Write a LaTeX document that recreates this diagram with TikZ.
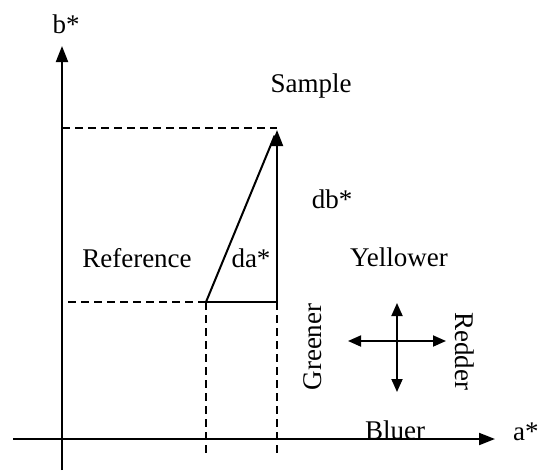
\documentclass[tikz,border=0pt]{standalone}
\usepackage{fontspec}
\setmainfont{Liberation Serif}
\usetikzlibrary{arrows.meta}
\begin{document}
\begin{tikzpicture}[x=1pt,y=-1pt,
  lbl/.style={font=\fontsize{27}{30}\selectfont, inner sep=0pt, text=black},
  axisline/.style={line width=2pt},
  dashline/.style={line width=2pt, dash pattern=on 8pt off 5pt},
  tip/.style={-{Triangle[length=16pt,width=12pt]}},
  dtip/.style={{Triangle[length=13pt,width=11pt]}-{Triangle[length=13pt,width=11pt]}}]
\useasboundingbox (0,0) rectangle (539,472);
% coordinates
\coordinate (ybot) at (62,470);
\coordinate (ytop) at (62,46);
\coordinate (xleft) at (13,439);
\coordinate (xright) at (495,439);
\coordinate (ref) at (206,302);
\coordinate (corner) at (277,302);
\coordinate (smp) at (277,130);
\coordinate (ytopdash) at (62,128);
\coordinate (smpdash) at (277,128);
\coordinate (yrefdash) at (68,302);
\coordinate (refbot) at (206,457);
\coordinate (cornerbot) at (277,457);
\coordinate (cl) at (348,341);
\coordinate (cr) at (446,341);
\coordinate (ct) at (397,303);
\coordinate (cb) at (397,392);
% axes
\draw[axisline,tip] (ybot) -- (ytop);
\draw[axisline,tip] (xleft) -- (xright);
% dashed guides
\draw[dashline] (ytopdash) -- (smpdash);
\draw[dashline] (yrefdash) -- (ref);
\draw[dashline] (ref) -- (refbot);
\draw[dashline] (corner) -- (cornerbot);
% triangle
\draw[axisline] (ref) -- (corner);
\draw[axisline,tip] (corner) -- (smp);
\draw[axisline,shorten >=6pt] (ref) -- (smp);
% direction cross
\draw[line width=1.8pt,dtip] (cl) -- (cr);
\draw[line width=1.8pt,dtip] (ct) -- (cb);
% labels
\node[lbl,anchor=base] (lb) at (66,33) {b*};
\node[lbl,anchor=base west] (la) at (513,440) {a*};
\node[lbl,anchor=base] (lsample) at (311,92) {Sample};
\node[lbl,anchor=base] (ldb) at (332,208) {db*};
\node[lbl,anchor=base] (lref) at (137,267) {Reference};
\node[lbl,anchor=base] (lda) at (251,267) {da*};
\node[lbl,anchor=base] (lyel) at (399,266) {Yellower};
\node[lbl,rotate=90] (lgreen) at (313,347) {Greener};
\node[lbl,rotate=-90] (lred) at (465,351) {Redder};
\node[lbl,anchor=base] (lblue) at (395,439) {Bluer};
\end{tikzpicture}
\end{document}
